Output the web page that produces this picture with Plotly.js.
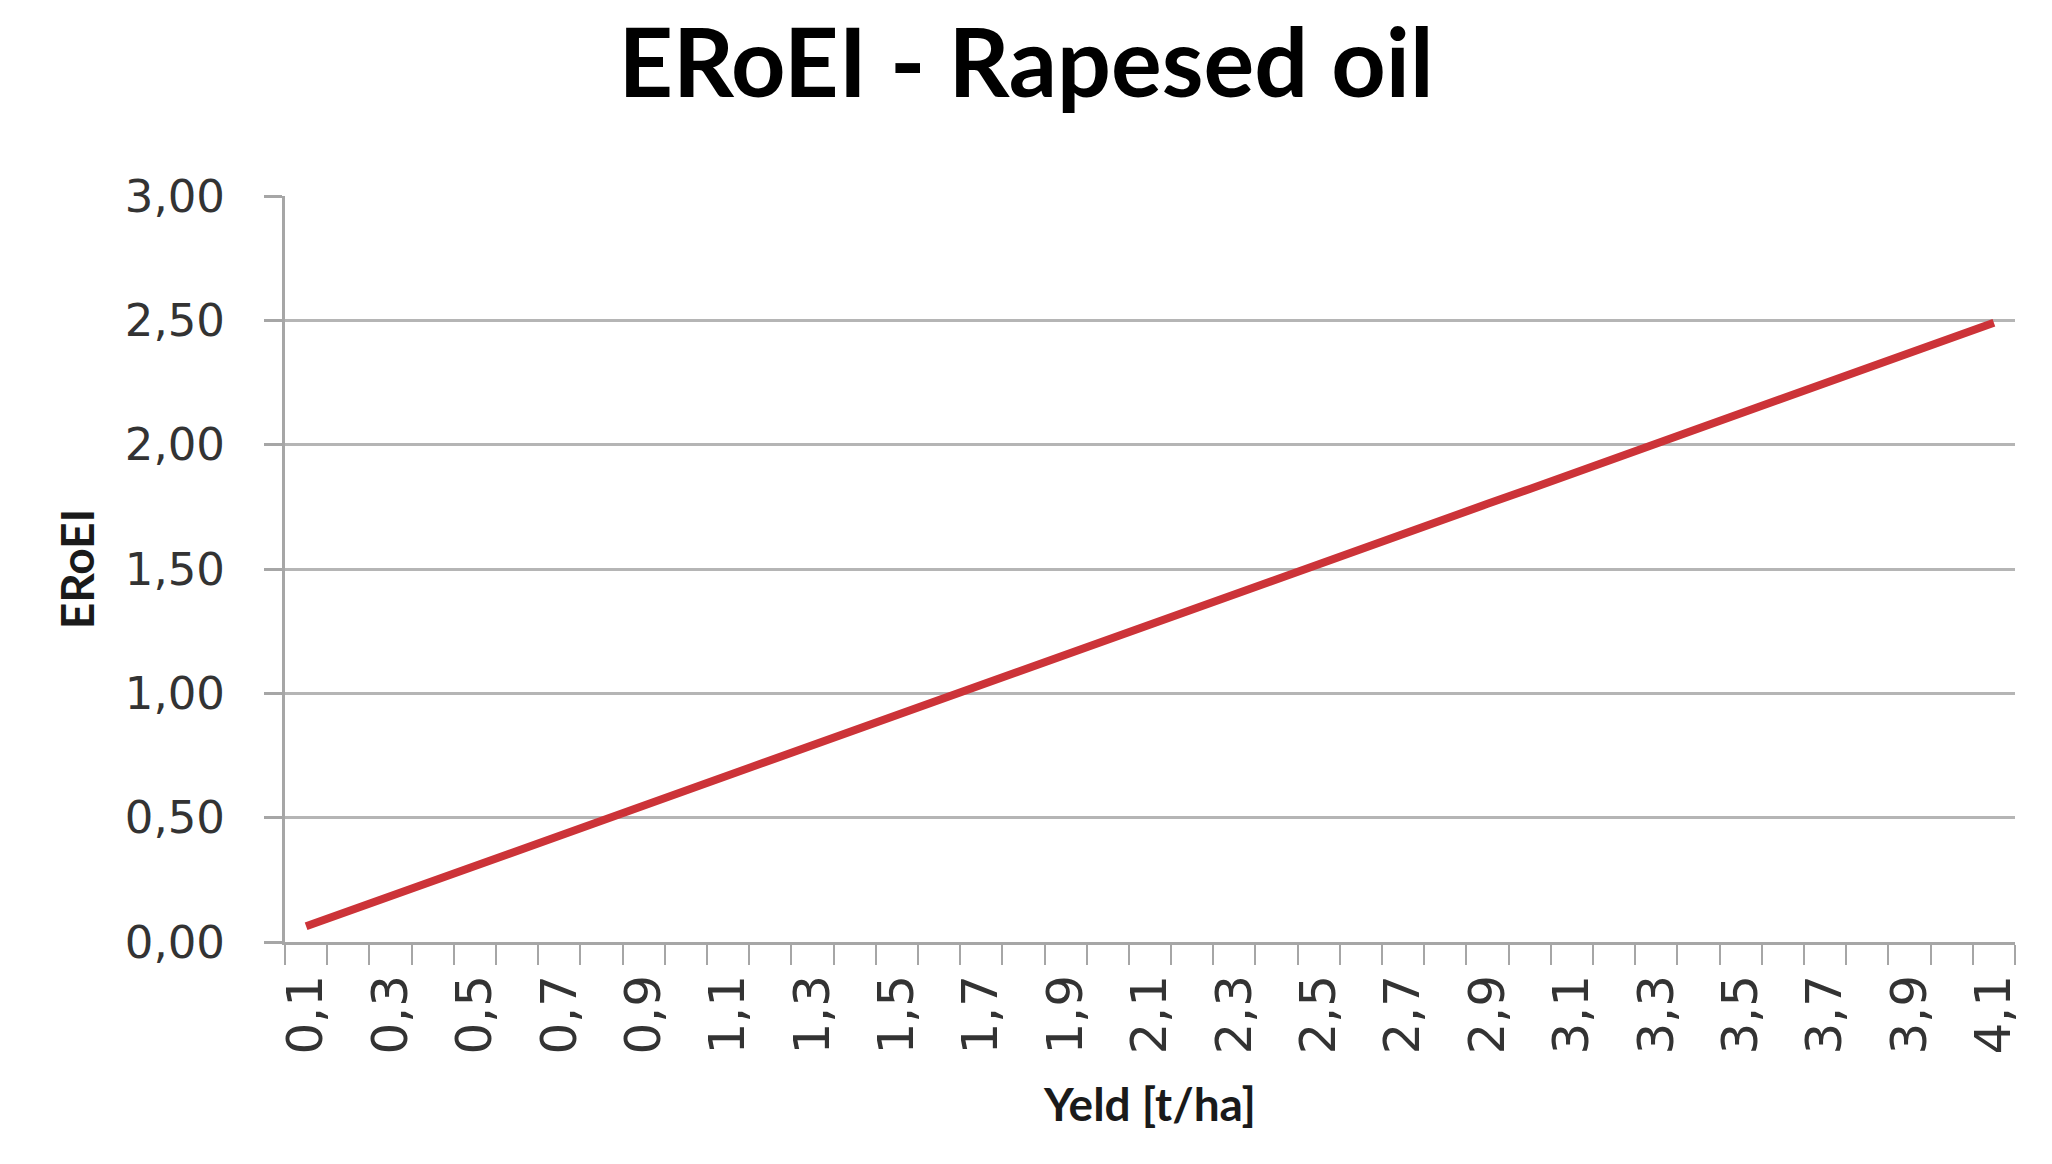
<!DOCTYPE html>
<html>
<head>
<meta charset="utf-8">
<script src="https://cdn.plot.ly/plotly-3.0.1.min.js"></script>
<style>
  html, body { margin: 0; padding: 0; background: #ffffff; }
  #chart { width: 2052px; height: 1164px; }
</style>
</head>
<body>
<div id="chart"></div>
<script>
// Yield in t/ha
const yields = [
  0.1, 0.2, 0.3, 0.4, 0.5, 0.6, 0.7, 0.8, 0.9, 1.0,
  1.1, 1.2, 1.3, 1.4, 1.5, 1.6, 1.7, 1.8, 1.9, 2.0,
  2.1, 2.2, 2.3, 2.4, 2.5, 2.6, 2.7, 2.8, 2.9, 3.0,
  3.1, 3.2, 3.3, 3.4, 3.5, 3.6, 3.7, 3.8, 3.9, 4.0, 4.1
];

// EROEI
const eroei = [
  0.063, 0.124, 0.184, 0.245, 0.306, 0.366, 0.427, 0.488, 0.548, 0.609,
  0.670, 0.730, 0.791, 0.852, 0.912, 0.973, 1.034, 1.094, 1.155, 1.216,
  1.276, 1.337, 1.398, 1.458, 1.519, 1.580, 1.640, 1.701, 1.762, 1.822,
  1.883, 1.944, 2.004, 2.065, 2.126, 2.186, 2.247, 2.308, 2.368, 2.429, 2.490
];

// every second yield gets a label
const labelledYields = yields.filter((v, i) => i % 2 === 0);
const yTicks = [0, 0.5, 1, 1.5, 2, 2.5, 3];

const trace = {
  x: yields,
  y: eroei,
  type: "scatter",
  mode: "lines",
  line: { color: "#cc3338", width: 8 },
  hoverinfo: "skip",
};

const layout = {
  width: 2052,
  height: 1164,
  separators: ",.",
  paper_bgcolor: "#ffffff",
  plot_bgcolor: "#ffffff",
  showlegend: false,
  margin: { l: 285, r: 37, t: 196, b: 222 },
  font: { family: "DejaVu Sans, Verdana, sans-serif", color: "#333333" },
  title: {
    text: "<b>ERoEI - Rapesed oil</b>",
    font: { family: "Lato, Open Sans, sans-serif", size: 95, color: "#000000" },
    x: 0.5,
    xanchor: "center",
    y: 0.945,
    yanchor: "middle",
  },
  xaxis: {
    type: "linear",
    range: [0.05, 4.15],
    tickvals: labelledYields,
    tickformat: ".1f",
    tickangle: -90,
    ticks: "",
    ticklabelstandoff: 10,
    tickfont: { size: 50, color: "#333333" },
    showgrid: false,
    zeroline: false,
    showline: true,
    linecolor: "#a6a6a6",
    linewidth: 3,
    minor: {
      tick0: 0.05,
      dtick: 0.1,
      ticks: "outside",
      ticklen: 20,
      tickwidth: 2,
      tickcolor: "#a6a6a6",
      showgrid: false,
    },
    title: {
      text: "<b>Yeld [t/ha]</b>",
      font: { family: "Lato, Open Sans, sans-serif", size: 46, color: "#1a1a1a" },
      standoff: 36,
    },
    fixedrange: true,
  },
  yaxis: {
    range: [0, 3],
    tickvals: yTicks,
    tickformat: ".2f",
    ticks: "outside",
    ticklen: 18,
    tickwidth: 3,
    tickcolor: "#a6a6a6",
    ticklabelstandoff: 30,
    tickfont: { size: 45, color: "#333333" },
    showgrid: true,
    gridcolor: "#b5b5b5",
    gridwidth: 3,
    zeroline: false,
    showline: true,
    linecolor: "#a6a6a6",
    linewidth: 3,
    title: {
      text: "<b>ERoEI</b>",
      font: { family: "Lato, Open Sans, sans-serif", size: 46, color: "#1a1a1a" },
      standoff: 16,
    },
    fixedrange: true,
  },
};

Plotly.newPlot("chart", [trace], layout, { staticPlot: true, displayModeBar: false });
</script>
</body>
</html>
